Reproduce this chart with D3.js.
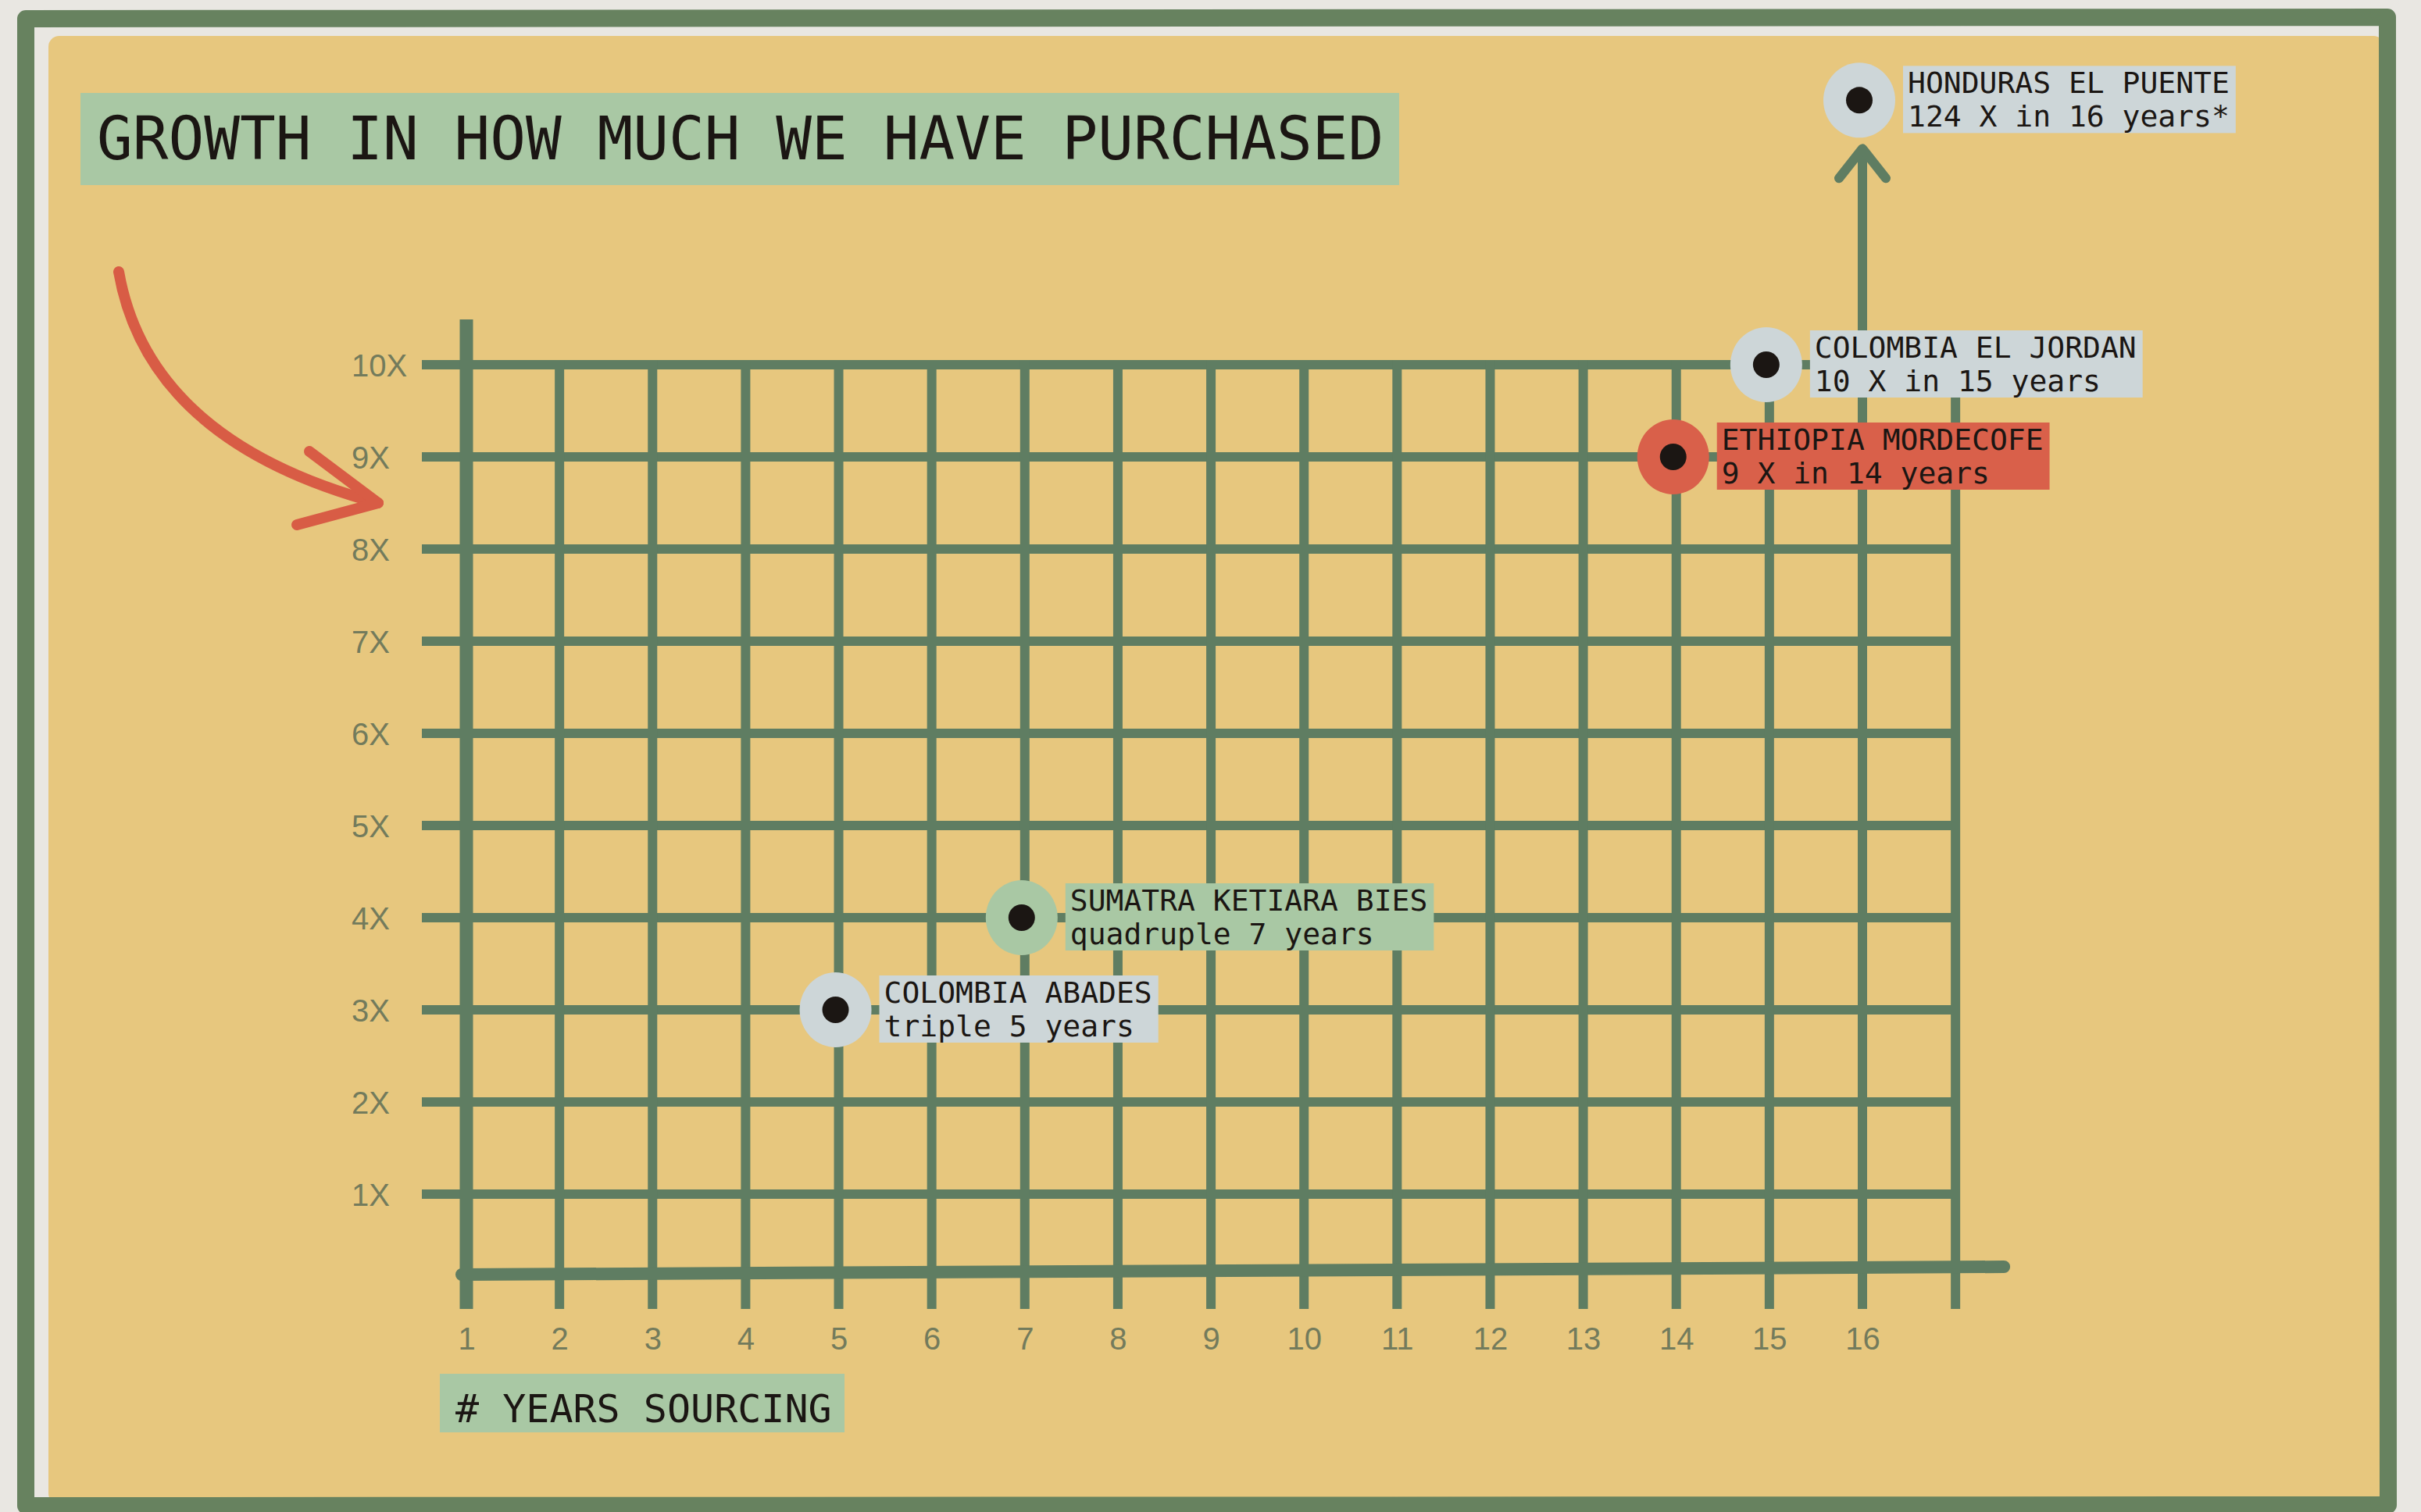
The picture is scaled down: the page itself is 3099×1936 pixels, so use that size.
<!DOCTYPE html>
<html>
<head>
<meta charset="utf-8">
<script src="https://cdn.jsdelivr.net/npm/d3@7"></script>
<style>
  html, body { margin: 0; padding: 0; background: #e9e7e2; }
  svg { display: block; }
</style>
</head>
<body>
<script>
// ---------- data ----------
const title = "GROWTH IN HOW MUCH WE HAVE PURCHASED";
const xAxisTitle = "# YEARS SOURCING";
const xTickLabels = ["1","2","3","4","5","6","7","8","9","10","11","12","13","14","15","16"];
const yTickLabels = ["1X","2X","3X","4X","5X","6X","7X","8X","9X","10X"];
const farms = ["COLOMBIA ABADES","SUMATRA KETIARA BIES","ETHIOPIA MORDECOFE","COLOMBIA EL JORDAN","HONDURAS EL PUENTE"];
const yearsSourcing = [5, 7, 14, 15, 16];
const growthMultiple = [3, 4, 9, 10, 124];
const notes = ["triple 5 years","quadruple 7 years","9 X in 14 years","10 X in 15 years","124 X in 16 years*"];

// ---------- styles ----------
const W = 3099, H = 1936;
const C = {
  page: "#e9e7e2", frame: "#67825f", panel: "#e7c77e", grid: "#5f7d62",
  tick: "#737b5c", sage: "#a9c8a4", blue: "#cdd6d8", red: "#d9604a",
  ink: "#1b1613", arrow: "#d85c45"
};
const pointFill = [C.blue, C.sage, C.red, C.blue, C.blue];
const MONO = "'DejaVu Sans Mono', 'Liberation Mono', monospace";
const SANS = "'Liberation Sans', Arial, sans-serif";

const svg = d3.select("body").append("svg").attr("width", W).attr("height", H);

// background + frame
svg.append("rect").attr("width", W).attr("height", H).attr("fill", C.page);
svg.append("rect").attr("x", 62).attr("y", 46).attr("width", 2990).attr("height", 1880)
  .attr("rx", 14).attr("fill", C.panel);
svg.append("path")
  .attr("d", "M33,1928 L33,24 L3056,22 L3057,1927 Z")
  .attr("fill", "none").attr("stroke", C.frame).attr("stroke-width", 22)
  .attr("stroke-linejoin", "round");

// scales
const x = d3.scaleLinear().domain([1, 16]).range([597, 2384]);
const y = d3.scaleLinear().domain([0, 10]).range([1647, 467]);
const OFF_SCALE = 12.87;
const yPos = v => y(v > 10 ? OFF_SCALE : v);

const g = svg.append("g");

// horizontal gridlines (with tick stubs)
const yVals = yTickLabels.map((d, i) => i + 1);
g.selectAll("line.h").data(yVals).join("line")
  .attr("x1", 540).attr("x2", x(17) + 3)
  .attr("y1", d => y(d)).attr("y2", d => y(d))
  .attr("stroke", C.grid).attr("stroke-width", 12);

// vertical gridlines
const xVals = d3.range(1, 18);
g.selectAll("line.v").data(xVals).join("line")
  .attr("x1", d => x(d)).attr("x2", d => x(d))
  .attr("y1", d => d === 1 ? 409 : y(10) - 6).attr("y2", 1676)
  .attr("stroke", C.grid).attr("stroke-width", d => d === 1 ? 17 : 12);

// x baseline
g.append("path")
  .attr("d", `M${x(1) - 6},1632 L${x(17) + 62},1622`)
  .attr("stroke", C.grid).attr("stroke-width", 16).attr("stroke-linecap", "round").attr("fill", "none");

// axis text
const yAxis = d3.axisLeft(y).tickValues(yVals).tickFormat((d, i) => yTickLabels[i]).tickSize(0);
const yg = svg.append("g").attr("transform", "translate(450,0)").call(yAxis);
yg.select(".domain").remove();
yg.selectAll("text").attr("x", 0).attr("text-anchor", "start").attr("dy", "0.36em")
  .attr("font-family", SANS).attr("font-size", 40).attr("fill", C.tick);

const xAxis = d3.axisBottom(x).tickValues(xTickLabels.map(Number)).tickFormat((d, i) => xTickLabels[i]).tickSize(0);
const xg = svg.append("g").attr("transform", "translate(0,1700)").call(xAxis);
xg.select(".domain").remove();
xg.selectAll("text").attr("y", 0).attr("dy", "0.71em")
  .attr("font-family", SANS).attr("font-size", 40).attr("fill", C.tick);

// title
const tb = svg.append("g");
tb.append("rect").attr("x", 103).attr("y", 119).attr("width", 1688).attr("height", 118).attr("fill", C.sage);
tb.append("text").attr("x", 124).attr("y", 204).text(title)
  .attr("font-family", MONO).attr("font-size", 76).attr("fill", C.ink);

// x axis title
const ab = svg.append("g");
ab.append("rect").attr("x", 563).attr("y", 1759).attr("width", 518).attr("height", 75).attr("fill", C.sage);
ab.append("text").attr("x", 583).attr("y", 1821).text(xAxisTitle)
  .attr("font-family", MONO).attr("font-size", 50).attr("fill", C.ink);

// red hand-drawn arrow
svg.append("path")
  .attr("d", "M152,348 Q190,565 484,644")
  .attr("fill", "none").attr("stroke", C.arrow).attr("stroke-width", 14).attr("stroke-linecap", "round");
svg.append("path")
  .attr("d", "M396,578 L484,644 L380,672")
  .attr("fill", "none").attr("stroke", C.arrow).attr("stroke-width", 14)
  .attr("stroke-linecap", "round").attr("stroke-linejoin", "round");

// points
const pts = farms.map((f, i) => ({ name: f, note: notes[i], yr: yearsSourcing[i], v: growthMultiple[i], fill: pointFill[i] }));

// off-scale arrow for values beyond axis
pts.filter(d => d.v > 10).forEach(d => {
  const cx = x(d.yr), top = yPos(d.v) + 62;
  svg.append("line").attr("x1", cx).attr("x2", cx).attr("y1", y(10)).attr("y2", top + 4)
    .attr("stroke", C.grid).attr("stroke-width", 12);
  svg.append("path").attr("d", `M${cx - 30},${top + 38} L${cx},${top} L${cx + 30},${top + 38}`)
    .attr("fill", "none").attr("stroke", C.grid).attr("stroke-width", 12)
    .attr("stroke-linecap", "round").attr("stroke-linejoin", "round");
});

const pg = svg.selectAll("g.pt").data(pts).join("g").attr("class", "pt")
  .attr("transform", d => `translate(${x(d.yr)},${yPos(d.v)})`);

const boxG = pg.append("g").attr("transform", "translate(52,0)");
boxG.append("rect").attr("y", -44).attr("height", 86).attr("fill", d => d.fill);
boxG.append("text").attr("x", 6).attr("y", -9).text(d => d.name)
  .attr("font-family", MONO).attr("font-size", 38).attr("fill", C.ink);
boxG.append("text").attr("x", 6).attr("y", 34).text(d => d.note)
  .attr("font-family", MONO).attr("font-size", 38).attr("fill", C.ink);
boxG.each(function () {
  const w = d3.max(d3.select(this).selectAll("text").nodes(), n => n.getComputedTextLength());
  d3.select(this).select("rect").attr("width", w + 14);
});

pg.append("ellipse").attr("cx", -4).attr("rx", 46).attr("ry", 48).attr("fill", d => d.fill);
pg.append("circle").attr("cx", -4).attr("r", 17).attr("fill", C.ink);
</script>
</body>
</html>
